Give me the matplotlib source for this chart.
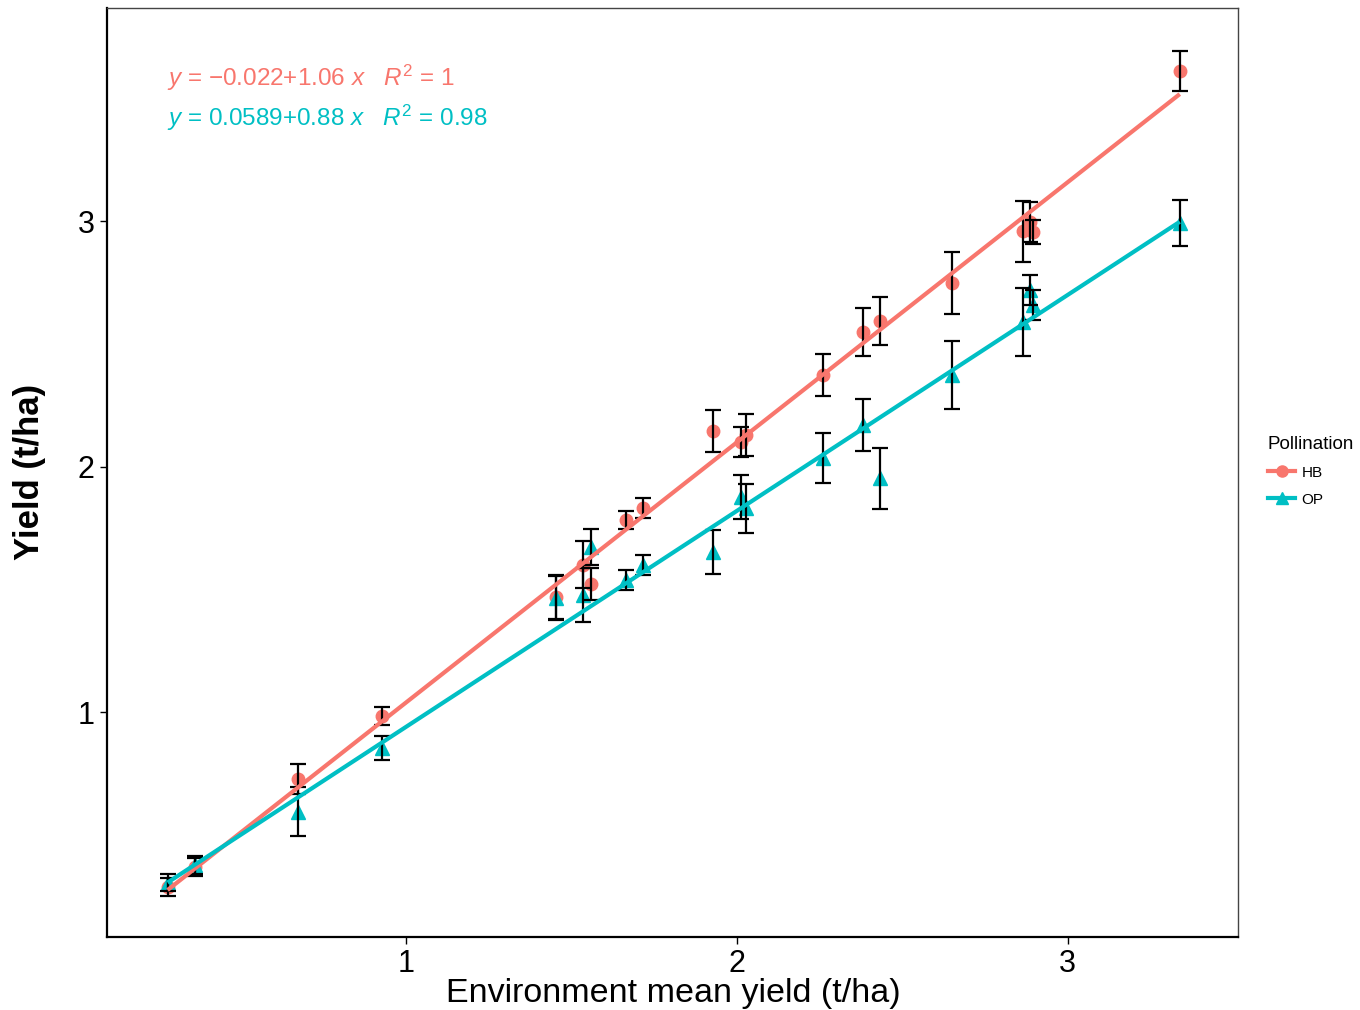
import numpy as np
import matplotlib
matplotlib.use("Agg")
import matplotlib.pyplot as plt
from matplotlib.lines import Line2D

plt.rcParams["font.family"] = ["Liberation Sans", "DejaVu Sans"]
plt.rcParams["mathtext.fontset"] = "custom"
plt.rcParams["mathtext.rm"] = "Liberation Sans"
plt.rcParams["mathtext.it"] = "Liberation Sans:italic"

# environment means (x) and genotype yields by pollination type
env_mean = [0.280, 0.362, 0.673, 0.927, 1.454, 1.536, 1.560, 1.666, 1.717, 1.929,
            2.014, 2.029, 2.262, 2.383, 2.434, 2.652, 2.864, 2.885, 2.894, 3.339]
hb_yield = [0.287, 0.369, 0.727, 0.984, 1.468, 1.600, 1.520, 1.782, 1.831, 2.145,
            2.100, 2.130, 2.373, 2.548, 2.593, 2.747, 2.959, 2.996, 2.955, 3.611]
hb_se = [0.035, 0.035, 0.062, 0.035, 0.090, 0.095, 0.065, 0.037, 0.039, 0.087,
         0.060, 0.085, 0.087, 0.097, 0.096, 0.125, 0.124, 0.080, 0.050, 0.083]
op_yield = [0.305, 0.377, 0.593, 0.853, 1.464, 1.477, 1.672, 1.538, 1.599, 1.652,
            1.876, 1.830, 2.035, 2.169, 1.953, 2.373, 2.589, 2.719, 2.658, 2.992]
op_se = [0.035, 0.035, 0.100, 0.050, 0.090, 0.110, 0.075, 0.039, 0.039, 0.090,
         0.090, 0.100, 0.100, 0.107, 0.124, 0.140, 0.138, 0.060, 0.060, 0.092]

# fitted lines as reported on the chart
hb_fit = (-0.022, 1.06)
op_fit = (0.0589, 0.88)
hb_label = r"$y$ = $-$0.022$+$1.06 $x$   $R^2$ = 1"
op_label = r"$y$ = 0.0589$+$0.88 $x$   $R^2$ = 0.98"

HB_COL = "#F8766D"
OP_COL = "#00BFC4"

fig = plt.figure(figsize=(13.6, 10.1), dpi=100)
ax = fig.add_axes([107 / 1360, 1 - 937 / 1010, (1238 - 107) / 1360, (937 - 8) / 1010])

x = np.array(env_mean)
ax.plot(x, hb_yield, "o", color=HB_COL, ms=9, zorder=2)
ax.plot(x, op_yield, "^", color=OP_COL, ms=10, zorder=2)
ax.errorbar(x, hb_yield, yerr=hb_se, fmt="none", ecolor="black", elinewidth=1.6,
            capsize=6, capthick=1.6, zorder=3)
ax.errorbar(x, op_yield, yerr=op_se, fmt="none", ecolor="black", elinewidth=1.6,
            capsize=6, capthick=1.6, zorder=3)

xs = np.array([x.min(), x.max()])
ax.plot(xs, hb_fit[0] + hb_fit[1] * xs, color=HB_COL, lw=3, zorder=4,
        solid_capstyle="butt")
ax.plot(xs, op_fit[0] + op_fit[1] * xs, color=OP_COL, lw=3, zorder=4,
        solid_capstyle="butt")

ax.text(0.053, 0.925, hb_label, transform=ax.transAxes, color=HB_COL, fontsize=17.5,
        va="center", ha="left")
ax.text(0.053, 0.882, op_label, transform=ax.transAxes, color=OP_COL, fontsize=17.5,
        va="center", ha="left")

ax.set_xlim(0.097, 3.515)
ax.set_ylim(0.0835, 3.868)
ax.set_xticks([1, 2, 3])
ax.set_yticks([1, 2, 3])
ax.tick_params(labelsize=22, length=5, width=1, colors="black", pad=4)
for s in ["left", "bottom"]:
    ax.spines[s].set_linewidth(1.6)
    ax.spines[s].set_color("black")
for s in ["top", "right"]:
    ax.spines[s].set_linewidth(1.0)
    ax.spines[s].set_color("#444444")

fig.text(673 / 1360, 1 - 1002 / 1010, "Environment mean yield (t/ha)", fontsize=24.5,
         ha="center", va="baseline")
fig.text(30 / 1360, 1 - 472 / 1010, "Yield (t/ha)", fontsize=25, fontweight="bold",
         rotation=90, ha="center", va="center")

handles = [Line2D([], [], color=HB_COL, marker="o", lw=3, ms=8),
           Line2D([], [], color=OP_COL, marker="^", lw=3, ms=9)]
leg = fig.legend(handles, ["HB", "OP"], title="Pollination", loc="upper left",
                 bbox_to_anchor=(1254 / 1360, 1 - 422 / 1010), frameon=False,
                 fontsize=11, title_fontsize=13.5, handlelength=1.8, handletextpad=0.4,
                 labelspacing=0.85)
leg._legend_box.align = "left"

fig.savefig("out.png", dpi=100)
